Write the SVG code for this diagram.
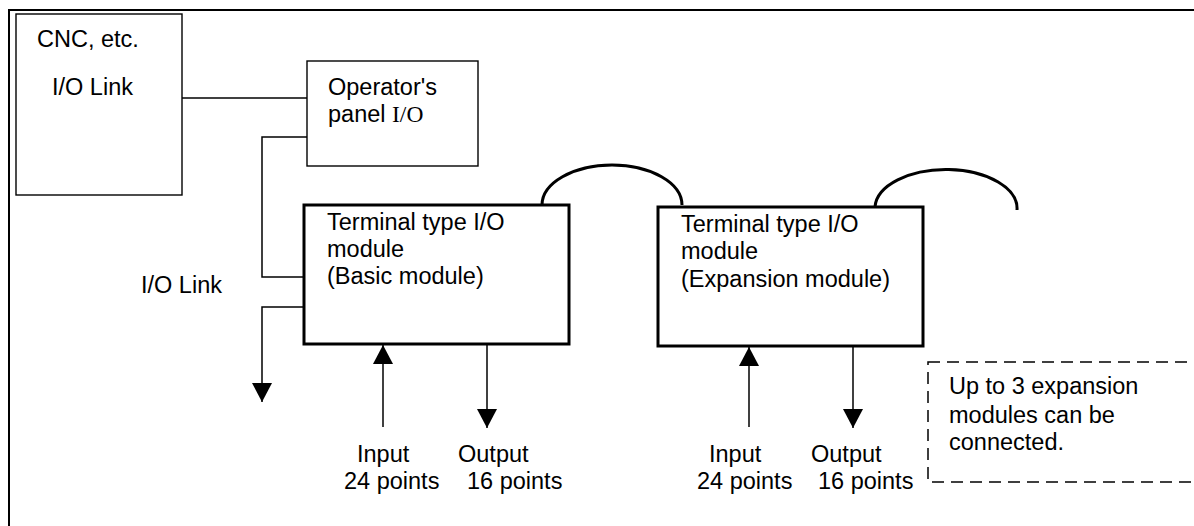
<svg xmlns="http://www.w3.org/2000/svg" width="1194" height="526" viewBox="0 0 1194 526">
<style>
text{font-family:"Liberation Sans",Arial,sans-serif;font-size:23.5px;fill:#000}
.serif{font-family:"Liberation Serif","Times New Roman",serif}
.thin{fill:none;stroke:#000;stroke-width:1.4}
.thick{fill:none;stroke:#000;stroke-width:3}
.ln{fill:none;stroke:#000;stroke-width:1.5}
.dash{fill:none;stroke:#000;stroke-width:1.5;stroke-dasharray:12 7}
</style>
<defs>
<marker id="ah" markerWidth="20" markerHeight="20" viewBox="0 0 20 20" refX="19" refY="10" orient="auto" markerUnits="userSpaceOnUse">
<path d="M0,0 L19,10 L0,20 Z" fill="#000"/>
</marker>
</defs>
<rect width="1194" height="526" fill="#fff"/>
<rect x="9" y="10" width="1200" height="530" fill="none" stroke="#000" stroke-width="2"/>

<g id="cnc">
<rect class="thin" x="16" y="14" width="166" height="181"/>
<text x="37" y="47">CNC, etc.</text>
<text x="52" y="95">I/O Link</text>
</g>

<g id="operator-panel">
<rect class="thin" x="307" y="61" width="171" height="105"/>
<text x="328" y="95">Operator's</text>
<text x="328" y="122">panel <tspan class="serif">I/O</tspan></text>
</g>

<g id="basic-module">
<rect class="thick" x="304" y="205" width="265" height="139"/>
<text x="327" y="230">Terminal type I/O</text>
<text x="327" y="257">module</text>
<text x="327" y="284">(Basic module)</text>
</g>

<g id="expansion-module">
<rect class="thick" x="658" y="207" width="265" height="139"/>
<text x="681" y="232">Terminal type I/O</text>
<text x="681" y="259">module</text>
<text x="681" y="287">(Expansion module)</text>
</g>

<g id="note">
<rect class="dash" x="928" y="362" width="290" height="120"/>
<text x="949" y="394">Up to 3 expansion</text>
<text x="949" y="423">modules can be</text>
<text x="949" y="450">connected.</text>
</g>

<g id="labels">
<text x="141" y="293">I/O Link</text>
<text x="357" y="462">Input</text>
<text x="344" y="489">24 points</text>
<text x="458" y="462">Output</text>
<text x="467" y="489">16 points</text>
<text x="709" y="462">Input</text>
<text x="697" y="489">24 points</text>
<text x="811" y="462">Output</text>
<text x="818" y="489">16 points</text>
</g>

<g id="connectors">
<path class="ln" d="M182,98 H307"/>
<path class="ln" d="M307,137 H262 V277 H304"/>
<path class="ln" d="M304,307 H262 V402" marker-end="url(#ah)"/>
<path class="ln" d="M383,427 V345" marker-end="url(#ah)"/>
<path class="ln" d="M487,344 V428" marker-end="url(#ah)"/>
<path class="ln" d="M749,427 V347" marker-end="url(#ah)"/>
<path class="ln" d="M853,346 V428" marker-end="url(#ah)"/>
<path class="thick" d="M542,205 A70,40 0 0 1 682,205"/>
<path class="thick" d="M875,207 A71,39 0 0 1 1017,210"/>
</g>
</svg>
